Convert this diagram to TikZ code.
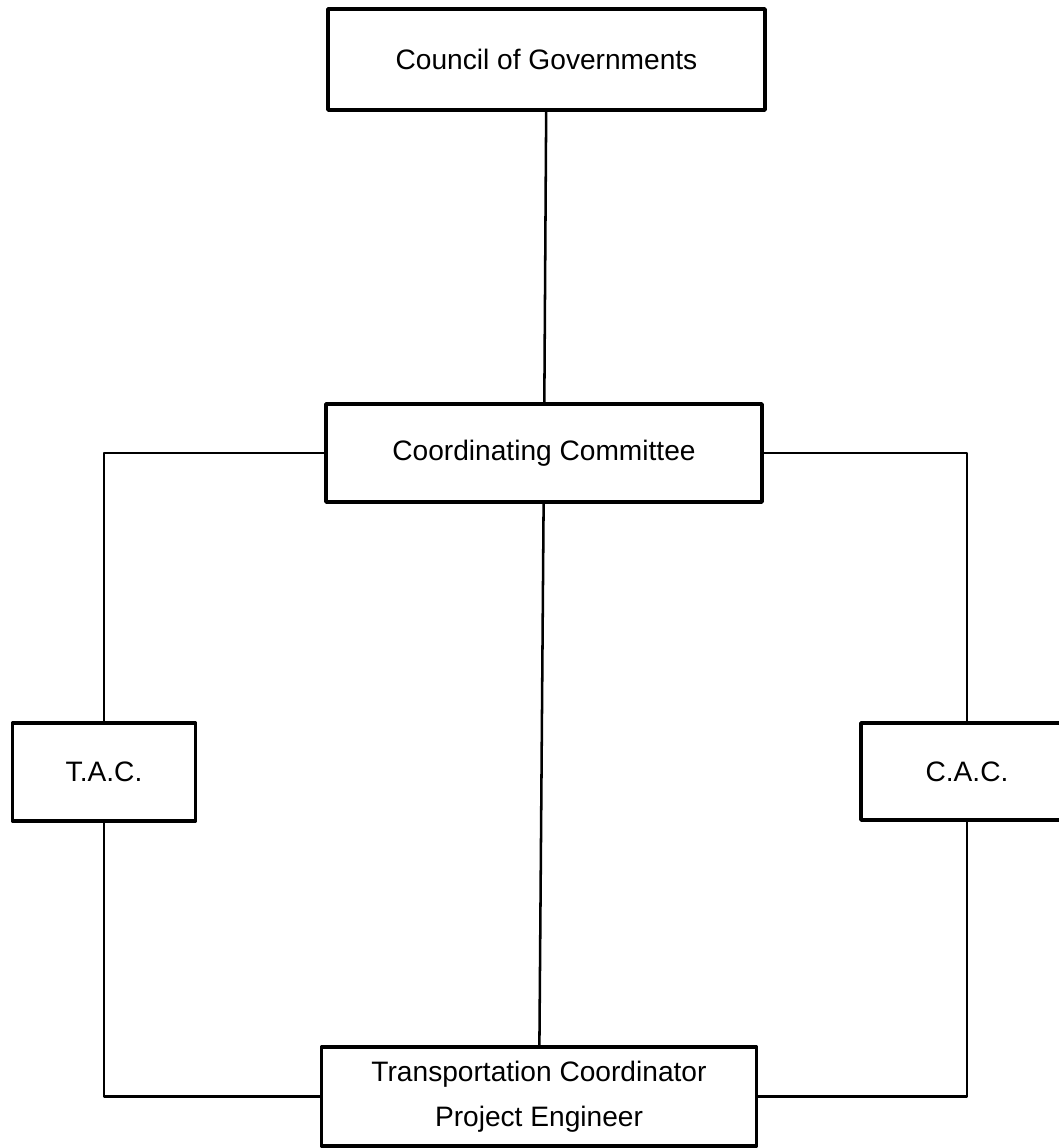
\documentclass[tikz,border=0pt]{standalone}
\usepackage{fontspec}
\setmainfont{Liberation Sans}
\begin{document}
\begin{tikzpicture}
	[
		x=0.025cm,
		y=-0.025cm,
		line cap=round,
		line join=round,
		caixa/.style={draw,rectangle,line width=2.5pt,inner sep=0pt,align=center,font=\fontsize{20}{32}\selectfont},
		liga/.style={line width=1.8pt}
	]
		\useasboundingbox (0,0) rectangle (1058,1148);
		% caixas
		\node[caixa,minimum width=10.925cm,minimum height=2.525cm] (council) at (546.5,59.5) {Council of Governments};
		\node[caixa,minimum width=10.9cm,minimum height=2.45cm] (coord) at (544,453) {Coordinating Committee};
		\node[caixa,minimum width=4.575cm,minimum height=2.45cm] (tac) at (104,772) {T.A.C.};
		\node[caixa,minimum width=5.3cm,minimum height=2.425cm] (cac) at (967,771.5) {C.A.C.};
		\node[caixa,minimum width=10.875cm,minimum height=2.475cm] (tpe) at (539,1096.5) {Transportation Coordinator\\Project Engineer};
		% ligacoes
		\draw [liga] (council) -- (coord);
		\draw [liga] (coord.west) -| (tac.north);
		\draw [liga] (coord.east) -| (cac.north);
		\draw [liga] (coord) -- (tpe);
		\draw [liga] (tac.south) |- (tpe.west);
		\draw [liga] (cac.south) |- (tpe.east);
	\end{tikzpicture}
\end{document}
